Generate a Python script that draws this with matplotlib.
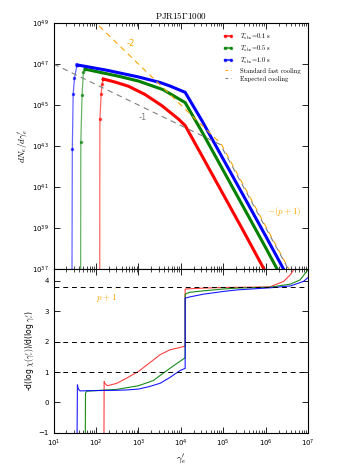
import numpy as np
import matplotlib
matplotlib.use("Agg")
import matplotlib.pyplot as plt
from matplotlib.ticker import NullLocator

plt.rcParams['mathtext.fontset'] = 'cm'

# ---- top panel: spectra, log10 values ----
# rising edge (thin, with markers)
blue_rise_lx = [1.43, 1.44, 1.46, 1.49, 1.55]
blue_rise_ly = [35.0, 42.84, 45.52, 46.30, 46.96]
green_rise_lx = [1.635, 1.64, 1.67, 1.70, 1.74]
green_rise_ly = [35.0, 43.18, 45.49, 46.60, 46.75]
red_rise_lx = [2.085, 2.09, 2.12, 2.14, 2.17]
red_rise_ly = [35.0, 44.30, 45.52, 46.02, 46.27]

# main part (thick)
blue_lx = [1.55, 2.25, 3.0, 3.51, 3.74, 4.1, 4.5, 5.0, 5.5, 6.0, 6.6]
blue_ly = [46.96, 46.70, 46.37, 46.10, 45.93, 45.62, 44.22, 42.35, 40.48, 38.60, 36.30]
green_lx = [1.74, 2.5, 3.0, 3.58, 4.1, 4.5, 5.0, 5.5, 6.0, 6.5]
green_ly = [46.75, 46.42, 46.17, 45.75, 45.12, 43.68, 41.80, 39.92, 38.03, 36.10]
red_lx = [2.17, 2.45, 2.76, 3.15, 3.55, 3.94, 4.1, 4.5, 5.0, 5.5, 6.1]
red_ly = [46.27, 46.12, 45.92, 45.52, 44.97, 44.32, 44.00, 42.51, 40.63, 38.75, 36.45]

fast_lx = [1.9, 4.95, 6.7]
fast_ly = [49.2, 43.10, 36.40]
expected_lx = [1.0, 4.93, 6.7]
expected_ly = [47.0, 43.07, 36.35]

# ---- bottom panel: local index ----
blue_d_lx = [1.55, 1.56, 1.58, 1.62, 2.0, 2.5, 2.72, 3.0, 3.25, 3.51, 3.74, 3.98, 4.1, 4.1,
             4.21, 4.53, 5.0, 5.32, 6.1, 6.58, 6.89, 7.0]
blue_d = [-1.5, 0.58, 0.45, 0.38, 0.39, 0.40, 0.41, 0.44, 0.52, 0.63, 0.82, 1.05, 1.12, 3.43,
          3.47, 3.56, 3.65, 3.70, 3.77, 3.83, 3.98, 4.11]
green_d_lx = [1.745, 1.75, 1.78, 2.0, 2.49, 3.0, 3.35, 3.58, 3.82, 4.1, 4.1, 4.2, 4.53, 5.0,
              5.32, 6.1, 6.58, 6.81, 7.0]
green_d = [-1.5, 0.30, 0.37, 0.39, 0.43, 0.55, 0.72, 0.96, 1.20, 1.47, 3.56, 3.62, 3.67, 3.73,
           3.76, 3.79, 3.89, 4.03, 4.37]
red_d_lx = [2.185, 2.19, 2.21, 2.27, 2.49, 2.72, 3.0, 3.27, 3.51, 3.74, 4.1, 4.1, 4.53, 5.0,
            6.1, 6.42, 6.58, 6.7]
red_d = [-1.5, 0.69, 0.62, 0.55, 0.63, 0.80, 1.02, 1.31, 1.57, 1.73, 1.85, 3.73, 3.76, 3.78,
         3.80, 3.98, 4.20, 4.45]

ref_levels = [1.0, 2.0, 3.8]
labels = [r'$T_{\rm obs}\!=\!0.1$ s', r'$T_{\rm obs}\!=\!0.5$ s', r'$T_{\rm obs}\!=\!1.0$ s']
colors = ['r', 'g', 'b']

fig = plt.figure(figsize=(3.53, 4.71), dpi=100)
ax1 = fig.add_axes([0.152, 0.429, 0.721, 0.522])
ax2 = fig.add_axes([0.152, 0.081, 0.721, 0.348], sharex=ax1)

p = lambda a: 10 ** np.array(a)

rises = [(red_rise_lx, red_rise_ly), (green_rise_lx, green_rise_ly), (blue_rise_lx, blue_rise_ly)]
mains = [(red_lx, red_ly), (green_lx, green_ly), (blue_lx, blue_ly)]
for (rx, ry), (mx, my), c, lab in zip(rises, mains, colors, labels):
    ax1.plot(p(rx), p(ry), '.-', color=c, lw=0.9, ms=3, alpha=0.6)
    # marker only at the corner, so the legend still shows the dots
    ax1.plot(p(mx), p(my), '.-', color=c, lw=2.2, ms=3, markevery=[0], label=lab)

ax1.plot(p(fast_lx), p(fast_ly), '--', color='orange', lw=0.8, dashes=(5, 4),
         label='Standard fast cooling')
ax1.plot(p(expected_lx), p(expected_ly), '--', color='gray', lw=0.8, dashes=(5, 4),
         label='Expected cooling')

ax1.text(p(2.72), p(48.02), '-2', color='orange', fontsize=6, va='center')
ax1.text(p(3.0), p(44.4), '-1', color='gray', fontsize=6, va='center')
ax1.text(p(6.03), p(39.78), r'$-(p+1)$', color='orange', fontsize=6.5, va='center')

ax1.set_xscale('log')
ax1.set_yscale('log')
ax1.set_xlim(1e1, 1e7)
ax1.set_ylim(1e37, 1e49)
ax1.set_yticks([10.0 ** k for k in range(37, 50, 2)])
ax1.yaxis.set_minor_locator(NullLocator())
ax1.tick_params(labelbottom=False)
ax1.set_ylabel(r'$dN_e/d\gamma_e^\prime$', fontsize=6.5, labelpad=2)
ax1.set_title(r'$\rm PJR15\Gamma1000$', fontsize=6.5, pad=3)
leg = ax1.legend(loc='upper right', bbox_to_anchor=(0.995, 0.99), frameon=False,
                 prop={'family': 'cmr10', 'size': 4.7}, numpoints=2, handlelength=1.5,
                 handletextpad=1.2, labelspacing=0.3)
for h in leg.get_lines()[:3]:
    h.set_linewidth(1.6)
    h.set_alpha(0.7)
for h in leg.get_lines()[3:]:
    h.set_dashes((2.5, 2.5))

for lx, d, c in zip([red_d_lx, green_d_lx, blue_d_lx], [red_d, green_d, blue_d], colors):
    ax2.plot(p(lx), d, color=c, lw=0.8, alpha=0.75 if c == 'r' else 0.9)
for lev in ref_levels:
    ax2.axhline(lev, color='k', ls='--', lw=0.7, dashes=(5, 4))
ax2.text(p(1.99), 3.44, r'$p+1$', color='orange', fontsize=6.5, va='center')

ax2.set_ylim(-1, 4.39)
ax2.set_yticks([-1, 0, 1, 2, 3, 4])
ax2.set_xlabel(r'$\gamma_e^\prime$', fontsize=7, labelpad=3)
ax2.set_ylabel(r'-d(log $\chi(\gamma_e^\prime)$)/d(log $\gamma_e^\prime$)', fontsize=5.5, labelpad=2)

for ax in (ax1, ax2):
    ax.tick_params(which='both', direction='in', top=True, right=True, labelsize=5)
    ax.tick_params(which='major', length=4, width=0.6)
    ax.tick_params(which='minor', length=2, width=0.5)
    for s in ax.spines.values():
        s.set_linewidth(0.8)

fig.savefig('out.png', dpi=100, facecolor='white')
